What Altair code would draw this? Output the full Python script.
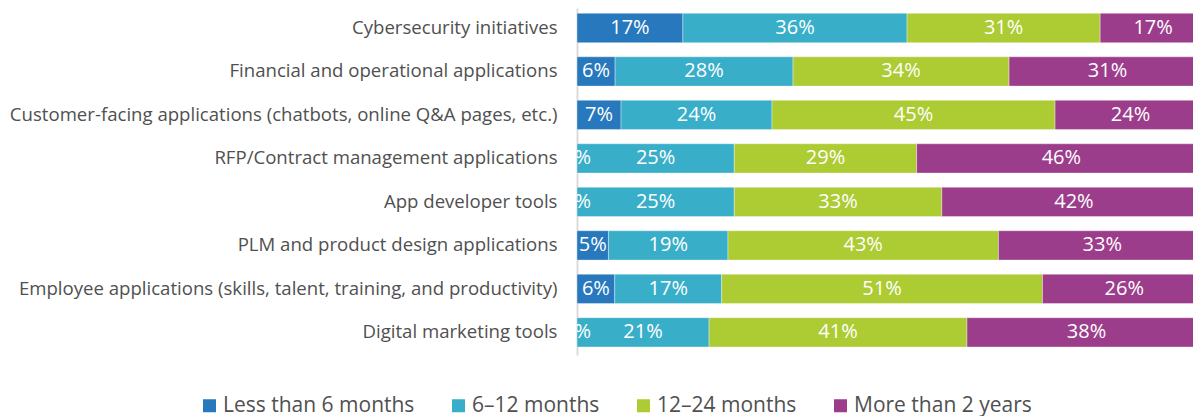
import altair as alt
import pandas as pd

categories = [
    "Cybersecurity initiatives",
    "Financial and operational applications",
    "Customer-facing applications (chatbots, online Q&A pages, etc.)",
    "RFP/Contract management applications",
    "App developer tools",
    "PLM and product design applications",
    "Employee applications (skills, talent, training, and productivity)",
    "Digital marketing tools",
]
series = ["Less than 6 months", "6–12 months", "12–24 months", "More than 2 years"]
less_than_6 = [17, 6, 7, 0, 0, 5, 6, 0]
m6_12 = [36, 28, 24, 25, 25, 19, 17, 21]
m12_24 = [31, 34, 45, 29, 33, 43, 51, 41]
over_2y = [17, 31, 24, 46, 42, 33, 26, 38]
colors = ["#2878bd", "#39aec9", "#adcb32", "#9c3d8c"]

values = [less_than_6, m6_12, m12_24, over_2y]
rows = []
for si, s in enumerate(series):
    for ci, c in enumerate(categories):
        rows.append({"category": c, "series": s, "order": si, "value": values[si][ci]})
df = pd.DataFrame(rows)

FONT = "Open Sans"

y_enc = alt.Y(
    "category:N",
    sort=categories,
    title=None,
    scale=alt.Scale(paddingInner=0.326, paddingOuter=0.153, align=0.4),
    axis=alt.Axis(
        labelFontSize=18.6,
        labelFont=FONT,
        labelColor="#505050",
        labelPadding=20,
        labelLimit=800,
        ticks=False,
        domainColor="#dcdcdc",
        domainWidth=2,
        grid=False,
    ),
)
x_scale = alt.Scale(domain=[0, 0.9793], nice=False, zero=False)

base = alt.Chart(df).transform_stack(
    stack="value",
    groupby=["category"],
    as_=["v0", "v1"],
    offset="normalize",
    sort=[alt.SortField("order", order="ascending")],
).transform_calculate(mid="(datum.v0 + datum.v1) / 2")

bars = base.mark_bar(clip=True, stroke="white", strokeWidth=0.6, strokeOpacity=0.6).encode(
    x=alt.X("v0:Q", scale=x_scale, axis=None, title=None),
    x2="v1:Q",
    y=y_enc,
    color=alt.Color(
        "series:N",
        sort=series,
        scale=alt.Scale(domain=series, range=colors),
        legend=alt.Legend(
            title=None,
            orient="none",
            direction="horizontal",
            legendX=-378,
            legendY=387,
            symbolType="square",
            symbolSize=169,
            symbolStrokeWidth=0,
            symbolOpacity=1,
            labelFont=FONT,
            labelFontSize=21,
            labelColor="#505050",
            labelOffset=3,
            columnPadding=33,
            labelLimit=400,
        ),
    ),
    order=alt.Order("order:Q"),
)

labels = base.mark_text(
    clip=True, color="white", font=FONT, fontSize=20, baseline="middle", align="center"
).encode(
    x=alt.X("mid:Q", scale=x_scale),
    y=alt.Y("category:N", sort=categories),
    text=alt.Text("label:N"),
).transform_calculate(label="datum.value + '%'")

chart = (
    alt.layer(bars, labels)
    .properties(
        width=616,
        height=347,
        padding={"left": 569, "top": 0, "right": 0, "bottom": 64},
        autosize=alt.AutoSizeParams(type="none"),
    )
    .configure_view(stroke=None)
)

chart.save("out.html", embed_options={"renderer": "svg", "actions": False})
